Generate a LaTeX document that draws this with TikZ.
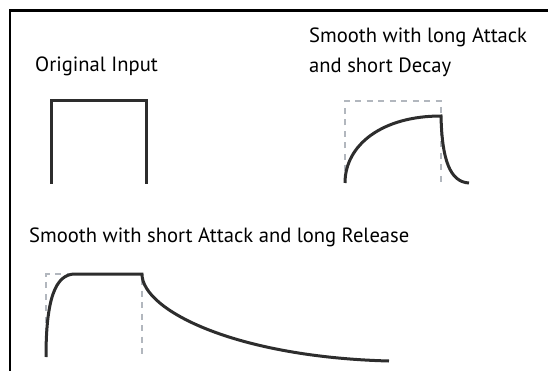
\documentclass[tikz,border=0pt]{standalone}
\usepackage{fontspec}
\setmainfont{PT Sans}
\definecolor{curvecol}{RGB}{45,45,45}
\definecolor{dashcol}{RGB}{178,183,190}
\tikzset{
  frameline/.style={line width=2.5pt, black},
  wave/.style={line width=3pt, curvecol, line cap=butt},
  guide/.style={line width=2.6pt, dashcol, dash pattern=on 6pt off 5.5pt},
  lbl/.style={anchor=base west, inner sep=0pt, text=black, font=\fontsize{20.6}{24}\selectfont}
}
\begin{document}
\begin{tikzpicture}[x=1pt,y=-1pt]
\useasboundingbox (0,0) rectangle (548,371);
% frame
\coordinate (ftr) at (548,10.3);
\coordinate (ftl) at (10,10.3);
\coordinate (fbl) at (10,371);
\draw[frameline] (ftr) -- (ftl) -- (fbl);
% labels
\node[lbl] (t1) at (35,72) {Original Input};
\node[lbl] (t2a) at (309,43) {Smooth with long Attack};
\node[lbl] (t2b) at (309,73) {and short Decay};
\node[lbl] (t3) at (29,242) {Smooth with short Attack and long Release};
% square wave
\draw[wave, line join=miter] (51,184) -- (51,101) -- (146,101) -- (146,184);
% long attack, short decay
\draw[guide] (345,183) -- (345,101) -- (441,101) -- (441,183);
\draw[wave] (345,183) .. controls (345,145) and (382,116) .. (441,116)
  .. controls (442,160) and (450,182) .. (469,183);
% short attack, long release
\draw[guide] (46,357) -- (46,274) -- (142,274) -- (142,357);
\draw[wave] (46,357) .. controls (46,300) and (55,274) .. (75,274) -- (142,274)
  .. controls (142,310) and (235,357) .. (389,361);
\end{tikzpicture}
\end{document}
